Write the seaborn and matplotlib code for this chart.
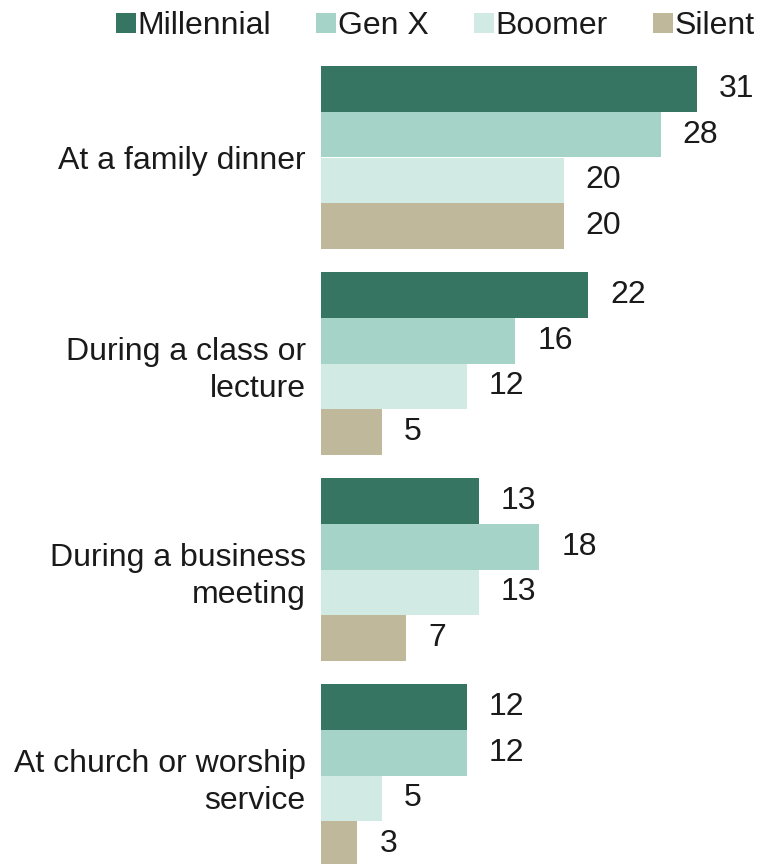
import matplotlib
matplotlib.use("Agg")
import matplotlib.pyplot as plt
import seaborn as sns
import pandas as pd
from matplotlib.patches import Patch

categories = ["At a family dinner", "During a class or\nlecture",
              "During a business\nmeeting", "At church or worship\nservice"]
generations = ["Millennial", "Gen X", "Boomer", "Silent"]
millennial = [31, 22, 13, 12]
genx = [28, 16, 18, 12]
boomer = [20, 12, 13, 5]
silent = [20, 5, 7, 3]
colors = ["#377563", "#a6d3c8", "#d2eae4", "#bfb89a"]

rows = []
for gen, vals in zip(generations, [millennial, genx, boomer, silent]):
    for cat, v in zip(categories, vals):
        rows.append({"category": cat, "generation": gen, "value": v})
df = pd.DataFrame(rows)

sns.set_style("white")
plt.rcParams["font.family"] = ["Liberation Sans", "DejaVu Sans"]

W, H = 763, 864
FS = 23
TXT = "#1a1a1a"
fig = plt.figure(figsize=(W / 100, H / 100), dpi=100)
left = 321 / W
xmax = 36
scale = (697 - 321) / 31.0
ax = fig.add_axes([left, 0, xmax * scale / W, 1])

sns.barplot(data=df, y="category", x="value", hue="generation",
            order=categories, hue_order=generations, palette=colors,
            orient="h", width=0.893, dodge=True, ax=ax, legend=False,
            saturation=1, errorbar=None, linewidth=0)

top = -157.5 / 206
bottom = (H - 157.5) / 206
ax.set_ylim(bottom, top)
ax.set_xlim(0, xmax)

for c in ax.containers:
    ax.bar_label(c, padding=16, fontsize=FS, color=TXT)

ax.set_xlabel("")
ax.set_ylabel("")
ax.set_xticks([])
ax.tick_params(axis="y", length=0, pad=11, labelsize=FS, labelcolor=TXT)
for lab in ax.get_yticklabels():
    lab.set_linespacing(1.3)
for s in ax.spines.values():
    s.set_visible(False)

handles = [Patch(facecolor=c, edgecolor="none") for c in colors]
fig.legend(handles, generations, loc="upper right", bbox_to_anchor=(1.018, 1.013),
           ncol=4, frameon=False, fontsize=FS, handlelength=0.62,
           handleheight=0.62, handletextpad=0.05, columnspacing=1.42,
           borderpad=0.2, labelcolor=TXT)

fig.savefig("out.png", dpi=100)
